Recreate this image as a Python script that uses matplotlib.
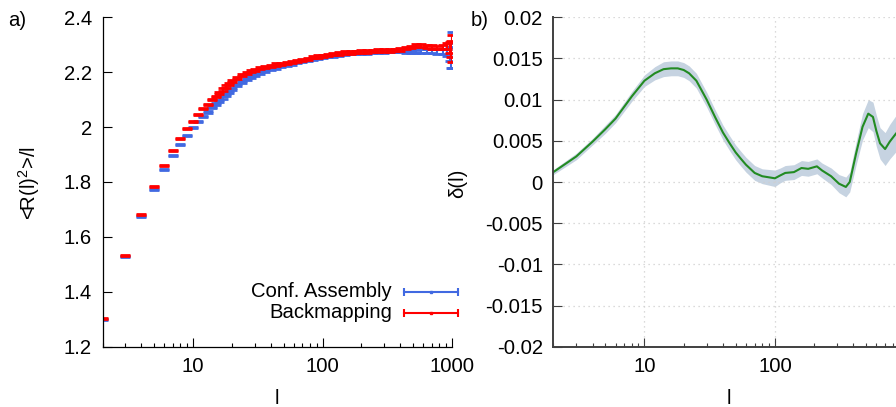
import matplotlib
matplotlib.use("Agg")
import matplotlib.pyplot as plt
import numpy as np

plt.rcParams['font.family'] = ['Liberation Sans', 'DejaVu Sans']
plt.rcParams['mathtext.fontset'] = 'custom'
plt.rcParams['mathtext.rm'] = 'Liberation Sans'

# ---- panel a: <R(l)^2>/l for the two preparation methods ----
chain_l = [2, 3, 4, 5, 6, 7, 8, 9, 10, 11, 12, 13, 14, 15,
           16, 17, 18, 19, 20, 22, 24, 26, 28, 30, 33, 36, 40, 44, 48,
           53, 58, 64, 70, 77, 85, 93, 100, 110, 120, 135, 150, 165, 180,
           200, 220, 245, 270, 300, 330, 360, 400, 440, 480, 530, 580,
           640, 700, 770, 850, 920, 960, 990, 1000]

conf_assembly = [1.300, 1.528, 1.675, 1.773, 1.844, 1.897, 1.937, 1.971,
                 1.997, 2.020, 2.039, 2.055, 2.071, 2.084,
                 2.096, 2.108, 2.118, 2.128, 2.139, 2.152, 2.164, 2.174,
                 2.182, 2.189, 2.197, 2.204, 2.211, 2.217, 2.222,
                 2.227, 2.231, 2.236, 2.240, 2.244, 2.248, 2.252, 2.255,
                 2.259, 2.262, 2.265, 2.268, 2.270, 2.271,
                 2.272, 2.273, 2.274, 2.275, 2.276, 2.277, 2.277, 2.277,
                 2.276, 2.276, 2.276, 2.277, 2.277, 2.277, 2.276, 2.275,
                 2.272, 2.265, 2.262, 2.281]
conf_assembly_err = [0.002] * 14 + [0.004] * 23 + [0.005] * 12 + \
                    [0.005, 0.005, 0.006, 0.006, 0.006, 0.006, 0.007, 0.007,
                     0.008, 0.010, 0.014, 0.025, 0.045, 0.067]

backmapping = [1.303, 1.533, 1.682, 1.783, 1.859, 1.915, 1.959, 1.994,
               2.021, 2.047, 2.067, 2.083, 2.099, 2.112,
               2.125, 2.137, 2.148, 2.158, 2.167, 2.178, 2.189, 2.197,
               2.204, 2.209, 2.214, 2.219, 2.224, 2.228, 2.231,
               2.234, 2.237, 2.241, 2.245, 2.249, 2.254, 2.257, 2.260,
               2.263, 2.266, 2.269, 2.271, 2.273, 2.274,
               2.275, 2.276, 2.277, 2.278, 2.279, 2.280, 2.281, 2.284,
               2.288, 2.292, 2.296, 2.297, 2.294, 2.292, 2.290, 2.292,
               2.295, 2.290, 2.285, 2.287]
backmapping_err = [0.002] * 14 + [0.004] * 23 + [0.005] * 12 + \
                  [0.005, 0.005, 0.005, 0.005, 0.005, 0.006, 0.006, 0.006,
                   0.006, 0.008, 0.012, 0.020, 0.030, 0.049]

a_yticks = [1.2, 1.4, 1.6, 1.8, 2.0, 2.2, 2.4]
a_yticklabels = ['1.2', '1.4', '1.6', '1.8', '2', '2.2', '2.4']

# ---- panel b: relative deviation delta(l) with its uncertainty band ----
delta_l = [2, 3, 4, 5, 6, 8, 10, 12, 14, 16, 18, 20, 22, 25, 30, 35, 40,
           45, 50, 55, 60, 70, 80, 100, 110, 120, 140, 160, 180, 210, 230,
           270, 310, 350, 375, 420, 470, 520, 565, 600, 640, 700, 760, 850,
           1000]
delta = [0.0012, 0.0031, 0.0049, 0.0064, 0.0077, 0.0104, 0.0123, 0.0132,
         0.0137, 0.0138, 0.0138, 0.0136, 0.0132, 0.0123, 0.0100, 0.0078,
         0.0060, 0.0047, 0.0036, 0.0028, 0.0021, 0.0011, 0.0007, 0.00045,
         0.0008, 0.0011, 0.0012, 0.0017, 0.0016, 0.0019, 0.0014, 0.0007,
         -0.0002, -0.0006, 0.0000, 0.0035, 0.0067, 0.0083, 0.0079, 0.0062,
         0.0047, 0.0040, 0.0049, 0.0059, 0.0070]
delta_err = [0.0003, 0.0004, 0.0004, 0.0005, 0.0005, 0.0006, 0.0007, 0.0008,
             0.0009, 0.0009, 0.0009, 0.0009, 0.0009, 0.0009, 0.0009, 0.0009,
             0.0009, 0.0009, 0.0009, 0.0009, 0.0009, 0.0009, 0.0009, 0.0010,
             0.0009, 0.0009, 0.0009, 0.0009, 0.0009, 0.0009, 0.0009, 0.0010,
             0.0011, 0.0012, 0.0012, 0.0014, 0.0016, 0.0017, 0.0018, 0.0019,
             0.0019, 0.0020, 0.0021, 0.0022, 0.0024]

b_yticks = [-0.02, -0.015, -0.01, -0.005, 0.0, 0.005, 0.01, 0.015, 0.02]
b_yticklabels = ['-0.02', '-0.015', '-0.01', '-0.005', '0', '0.005',
                 '0.01', '0.015', '0.02']

W, H = 896, 407
FS = 14.6
BLUE = '#4169e1'
RED = '#ff0000'

fig = plt.figure(figsize=(W / 100, H / 100), dpi=100)
ax_a = fig.add_axes([102.5 / W, 60.3 / H, 349.5 / W, 329.4 / H])
ax_b = fig.add_axes([553.3 / W, 60.3 / H, 352.0 / W, 329.4 / H])


def style_axes(ax, spine_color, spine_lw):
    ax.set_xscale('log')
    ax.set_xlim(2, 1000)
    for side in ('top', 'right'):
        ax.spines[side].set_visible(False)
    for side in ('left', 'bottom'):
        ax.spines[side].set_color(spine_color)
        ax.spines[side].set_linewidth(spine_lw)
    ax.tick_params(which='major', direction='in', length=6.5, width=0.8,
                   labelsize=FS, pad=7.5, color=spine_color)
    ax.tick_params(which='minor', direction='in', length=3.2, width=0.8,
                   color=spine_color)
    ax.tick_params(axis='y', which='minor', left=False)
    ax.xaxis.set_major_formatter(matplotlib.ticker.FuncFormatter(
        lambda v, p: '%d' % round(v)))
    ax.xaxis.set_minor_formatter(matplotlib.ticker.NullFormatter())


# panel a
style_axes(ax_a, 'black', 0.9)
ax_a.errorbar(chain_l, conf_assembly, yerr=conf_assembly_err, fmt='none',
              ecolor=BLUE, elinewidth=1.5, capsize=3.3, capthick=2.0)
ax_a.errorbar(chain_l, backmapping, yerr=backmapping_err, fmt='none',
              ecolor=RED, elinewidth=1.5, capsize=3.3, capthick=2.0)
ax_a.set_ylim(1.2, 2.4)
ax_a.set_yticks(a_yticks)
ax_a.set_yticklabels(a_yticklabels)
ax_a.set_xticks([10, 100, 1000])

# hand-drawn key: label on the left, errorbar sample on the right
def to_axes(px, py):
    return (px - 102.5) / 349.5, (346.7 - py) / 329.4

for name, color, py in (('Conf. Assembly', BLUE, 291.5),
                        ('Backmapping', RED, 312.5)):
    tx, ty = to_axes(392, py)
    ax_a.text(tx, ty, name, transform=ax_a.transAxes, ha='right',
              va='center', fontsize=FS)
    x0, y0 = to_axes(404, py)
    x1, _ = to_axes(458, py)
    xm, _ = to_axes(431, py)
    ax_a.plot([x0, x1], [y0, y0], color=color, lw=1.5,
              transform=ax_a.transAxes, clip_on=False)
    ax_a.plot([x0, x1], [y0, y0], ls='none', marker='|', ms=5.5, mew=1.5,
              color=color, transform=ax_a.transAxes, clip_on=False)
    ax_a.plot([xm], [y0], ls='none', marker='s', ms=2, color=color,
              transform=ax_a.transAxes, clip_on=False)

# panel b
style_axes(ax_b, '#404040', 1.4)
ax_b.grid(True, which='major', color='#cfcfcf', ls=(0, (1, 3)), lw=0.9)
ax_b.fill_between(delta_l, np.array(delta) - np.array(delta_err),
                  np.array(delta) + np.array(delta_err),
                  color='#c6d3e1', lw=0)
ax_b.plot(delta_l, delta, color='#228b22', lw=1.5)
ax_b.set_ylim(-0.02, 0.02)
ax_b.set_yticks(b_yticks)
ax_b.set_yticklabels(b_yticklabels)
ax_b.set_xticks([10, 100])

# axis titles and panel tags
fig.text(277 / W, 1 - 398 / H, 'l', fontsize=FS, ha='center', va='center')
fig.text(729 / W, 1 - 398 / H, 'l', fontsize=FS, ha='center', va='center')
fig.text(29 / W, 1 - 183 / H, r'<R(l)$^{\rm 2}$>/l', fontsize=FS,
         rotation=90, ha='center', va='center')
fig.text(457.5 / W, 1 - 183 / H, 'δ(l)', fontsize=FS, rotation=90,
         ha='center', va='center')
fig.text(8 / W, 1 - 21 / H, 'a)', fontsize=FS, ha='left', va='center')
fig.text(471 / W, 1 - 21 / H, 'b)', fontsize=FS, ha='left', va='center')

fig.savefig('out.png', dpi=100, facecolor='white')
